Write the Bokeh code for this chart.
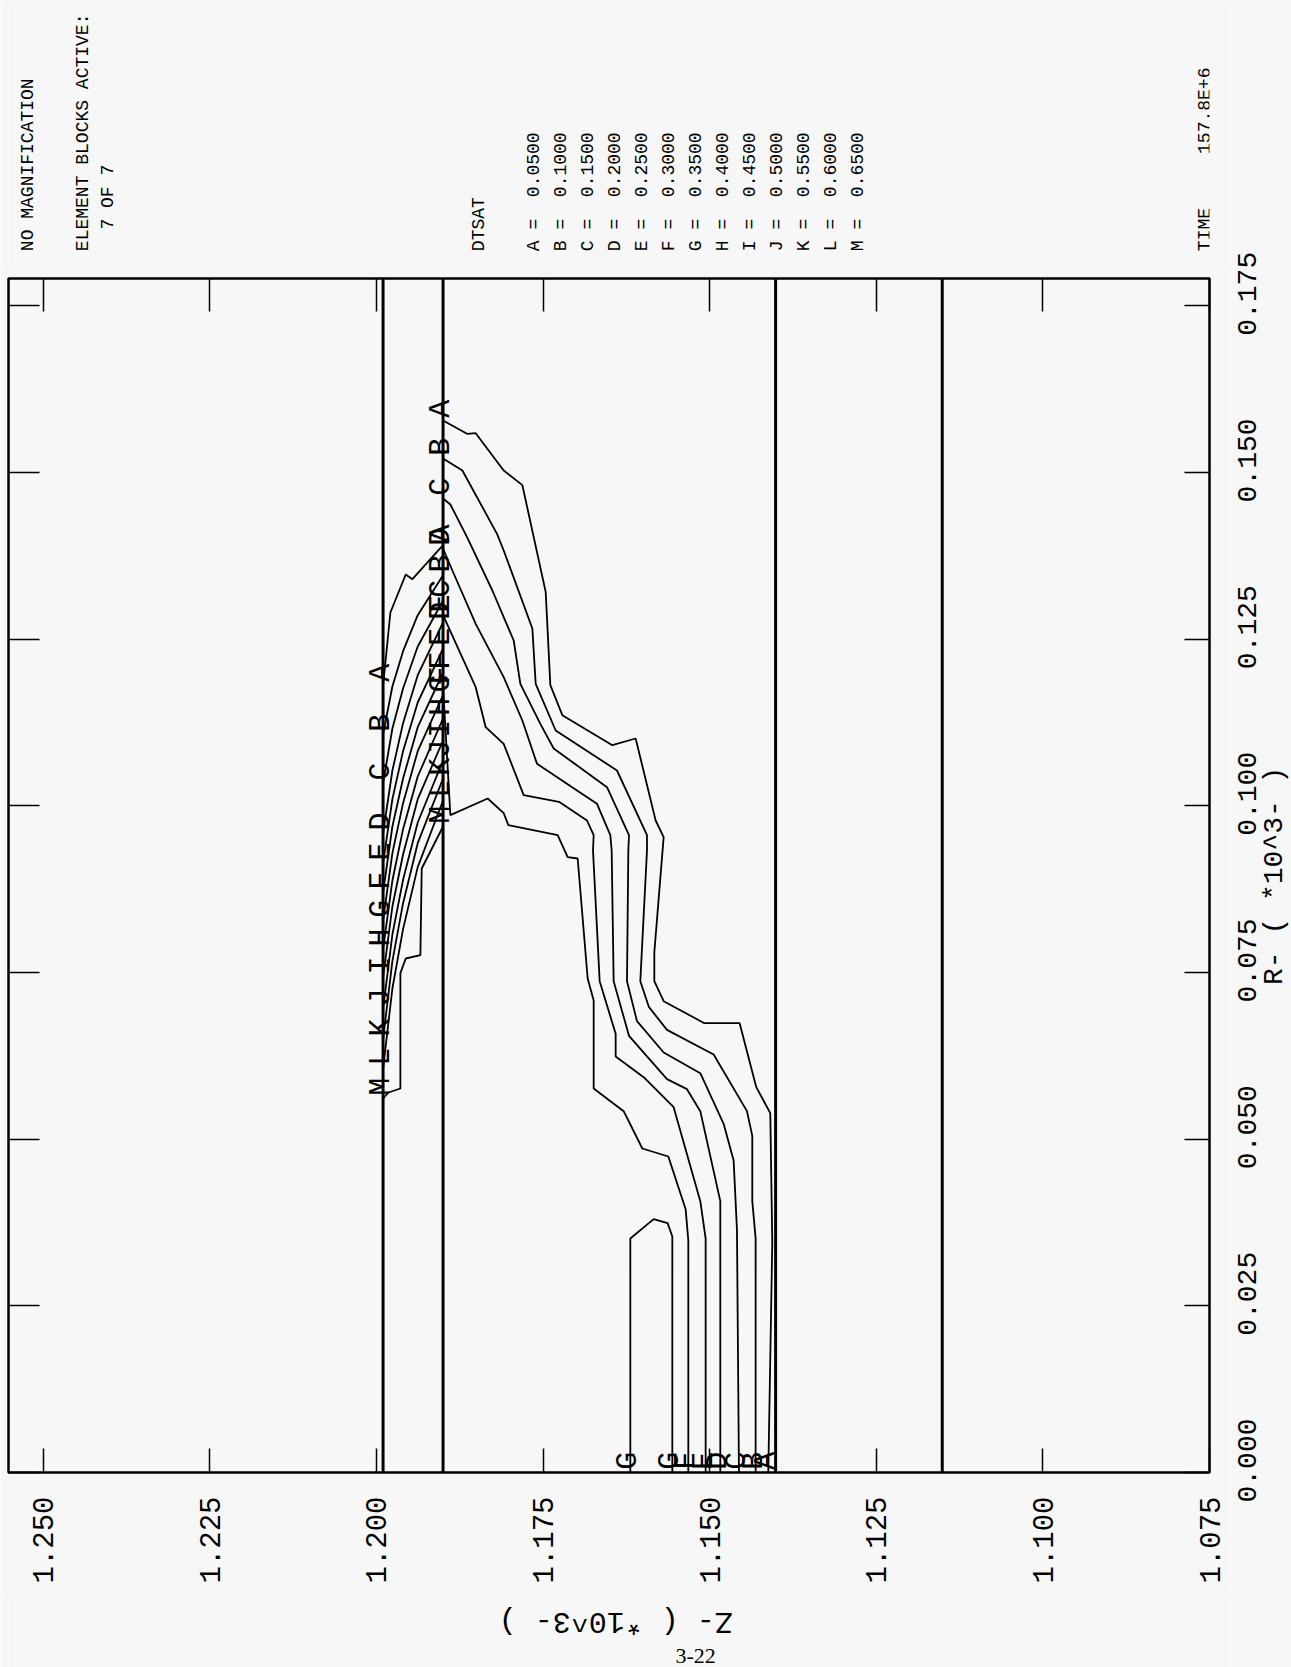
import math

from bokeh.core.properties import value
from bokeh.embed import file_html
from bokeh.layouts import column, row
from bokeh.models import FixedTicker, LinearAxis, PrintfTickFormatter, Range1d, Span
from bokeh.plotting import figure
from bokeh.resources import INLINE

PAPER = "#f7f7f7"
MONO = "Liberation Mono"
NB = "\u00a0"  # keeps the typewriter spacing of the printout

# ---- axes -------------------------------------------------------------
z_ticks = [1.075, 1.100, 1.125, 1.150, 1.175, 1.200, 1.225, 1.250]
r_ticks = [0.000, 0.025, 0.050, 0.075, 0.100, 0.125, 0.150, 0.175]
r_tick_labels = ["0.000", "0.025", "0.050", "0.075", "0.100", "0.125", "0.150", "0.175"]

# element block boundaries (Z, *10^3)
block_z = [1.1990, 1.1900, 1.1401, 1.1151]

# ---- contour levels of DTSAT -----------------------------------------
level_names = ["A", "B", "C", "D", "E", "F", "G", "H", "I", "J", "K", "L", "M"]
level_values = [0.05, 0.10, 0.15, 0.20, 0.25, 0.30, 0.35, 0.40, 0.45, 0.50, 0.55, 0.60, 0.65]

# ---- contours in the block between Z=1.140 and Z=1.190 ---------------
low_A_z = [1.1900, 1.1864, 1.1851, 1.1809, 1.1781, 1.1746, 1.1739, 1.1721, 1.1646, 1.1611, 1.1581,
           1.1569, 1.1583, 1.1583, 1.1569, 1.1508, 1.1455, 1.1430, 1.1409, 1.1406, 1.1412]
low_A_r = [0.1578, 0.1558, 0.1559, 0.1503, 0.1481, 0.1321, 0.1181, 0.1136, 0.1091, 0.1101, 0.0978,
           0.0953, 0.0780, 0.0737, 0.0707, 0.0674, 0.0674, 0.0578, 0.0539, 0.0345, 0.0]

low_B_z = [1.1900, 1.1871, 1.1819, 1.1809, 1.1766, 1.1761, 1.1731, 1.1639, 1.1594, 1.1594, 1.1604,
           1.1591, 1.1564, 1.1494, 1.1444, 1.1436, 1.1436, 1.1431, 1.1431]
low_B_r = [0.1521, 0.1503, 0.1408, 0.1383, 0.1266, 0.1183, 0.1113, 0.1053, 0.0956, 0.0933, 0.0737,
           0.0698, 0.0664, 0.0627, 0.0542, 0.0505, 0.0407, 0.0351, 0.0]

low_C_z = [1.1900, 1.1889, 1.1864, 1.1826, 1.1794, 1.1784, 1.1754, 1.1734, 1.1654, 1.1621, 1.1622,
           1.1624, 1.1609, 1.1569, 1.1514, 1.1479, 1.1464, 1.1459, 1.1456]
low_C_r = [0.1461, 0.1452, 0.1403, 0.1323, 0.1248, 0.1183, 0.1123, 0.1086, 0.1028, 0.0956, 0.0933,
           0.0737, 0.0677, 0.0630, 0.0599, 0.0523, 0.0468, 0.0364, 0.0]

low_D_z = [1.1900, 1.1886, 1.1851, 1.1809, 1.1781, 1.1759, 1.1699, 1.1669, 1.1649, 1.1647, 1.1644,
           1.1621, 1.1564, 1.1534, 1.1514, 1.1484, 1.1484]
low_D_r = [0.1386, 0.1353, 0.1273, 0.1193, 0.1128, 0.1063, 0.1023, 0.1003, 0.0956, 0.0933, 0.0737,
           0.0655, 0.0590, 0.0575, 0.0542, 0.0407, 0.0]

low_E_z = [1.1900, 1.1851, 1.1836, 1.1809, 1.1779, 1.1726, 1.1684, 1.1674, 1.1675, 1.1665, 1.1641,
           1.1641, 1.1599, 1.1554, 1.1514, 1.1506, 1.1506]
low_E_r = [0.1286, 0.1178, 0.1118, 0.1093, 0.1016, 0.1006, 0.0978, 0.0956, 0.0933, 0.0737, 0.0658,
           0.0624, 0.0593, 0.0548, 0.0407, 0.0351, 0.0]

low_F_z = [1.1900, 1.1889, 1.1833, 1.1809, 1.1802, 1.1728, 1.1713, 1.1698, 1.1683, 1.1674, 1.1674,
           1.1629, 1.1601, 1.1562, 1.1536, 1.1532, 1.1532]
low_F_r = [0.1178, 0.0986, 0.1011, 0.0989, 0.0971, 0.0956, 0.0923, 0.0921, 0.0741, 0.0708, 0.0576,
           0.0542, 0.0486, 0.0474, 0.0395, 0.0348, 0.0]

low_G_z = [1.1619, 1.1619, 1.1584, 1.1563, 1.1556, 1.1556]
low_G_r = [0.0, 0.0351, 0.0380, 0.0374, 0.0354, 0.0]

# ---- contours in the thin block between Z=1.190 and Z=1.199 -----------
mid_z = [1.1990, 1.1976, 1.1960, 1.1938, 1.1900]

mid_A_z = [1.1990, 1.1988, 1.1979, 1.1956, 1.1946, 1.1900]
mid_A_r = [0.1182, 0.1200, 0.1290, 0.1347, 0.1340, 0.1391]
mid_B_r = [0.1107, 0.1179, 0.1232, 0.1286, 0.1346]
mid_C_r = [0.1034, 0.1116, 0.1176, 0.1239, 0.1308]
mid_D_r = [0.0959, 0.1053, 0.1124, 0.1196, 0.1275]
mid_E_r = [0.0914, 0.1010, 0.1082, 0.1155, 0.1236]
mid_F_r = [0.0870, 0.0969, 0.1041, 0.1118, 0.1200]
mid_G_r = [0.0828, 0.0929, 0.1004, 0.1082, 0.1166]
mid_H_r = [0.0785, 0.0888, 0.0965, 0.1044, 0.1131]
mid_I_r = [0.0743, 0.0849, 0.0927, 0.1010, 0.1098]
mid_J_r = [0.0695, 0.0807, 0.0889, 0.0975, 0.1068]
mid_K_r = [0.0650, 0.0767, 0.0854, 0.0944, 0.1041]
mid_L_r = [0.0606, 0.0726, 0.0815, 0.0908, 0.1008]
mid_M_z = [1.1990, 1.1982, 1.1964, 1.1964, 1.1956, 1.1934, 1.1932, 1.1900]
mid_M_r = [0.0561, 0.0570, 0.0576, 0.0749, 0.0771, 0.0776, 0.0906, 0.0969]

contours = [
    ("A", low_A_z, low_A_r), ("B", low_B_z, low_B_r), ("C", low_C_z, low_C_r),
    ("D", low_D_z, low_D_r), ("E", low_E_z, low_E_r), ("F", low_F_z, low_F_r),
    ("G", low_G_z, low_G_r),
    ("A", mid_A_z, mid_A_r), ("B", mid_z, mid_B_r), ("C", mid_z, mid_C_r),
    ("D", mid_z, mid_D_r), ("E", mid_z, mid_E_r), ("F", mid_z, mid_F_r),
    ("G", mid_z, mid_G_r), ("H", mid_z, mid_H_r), ("I", mid_z, mid_I_r),
    ("J", mid_z, mid_J_r), ("K", mid_z, mid_K_r), ("L", mid_z, mid_L_r),
    ("M", mid_M_z, mid_M_r),
]

# ---- shared ranges and page geometry -------------------------------------
PX_PER_UNIT = 6667      # same scale on both axes
FRAME_RIGHT = 1209      # canvas x of Z = 1.075
z_range = Range1d(1.2552, 1.075)
r_range = Range1d(0.0, 0.1791)
LEFT_W = 1229           # width of the header / plot / footer column
STRIP_W = 1291 - LEFT_W


def bare_figure(width, height, x_range, y_range, **borders):
    f = figure(width=width, height=height, x_range=x_range, y_range=y_range,
               output_backend="svg", toolbar_location=None,
               x_axis_type=None, y_axis_type=None,
               background_fill_color=PAPER, border_fill_color=PAPER,
               outline_line_color=None, **borders)
    f.grid.visible = False
    return f


def rotated_text(f, xs, ys, texts, size, angle=math.pi / 2, align="left", font=MONO):
    f.text(x=xs, y=ys, text=texts, angle=angle, text_align=align, text_baseline="middle",
           text_font=value(font), text_font_size=size, text_color="black")


# ---- main plot ----------------------------------------------------------
p = figure(
    width=LEFT_W, height=1325, x_range=z_range, y_range=r_range,
    output_backend="svg", toolbar_location=None,
    x_axis_location="below", y_axis_location="right",
    min_border_left=8, min_border_right=LEFT_W - FRAME_RIGHT,
    min_border_top=8, min_border_bottom=123,
    background_fill_color=PAPER, border_fill_color=PAPER,
    outline_line_color="black", outline_line_width=2.5,
)
p.grid.visible = False


def style_axis(ax, ticks, tick_len, labelled, standoff=0):
    ax.ticker = FixedTicker(ticks=ticks)
    ax.formatter = PrintfTickFormatter(format="%.3f")
    ax.axis_line_color = None
    ax.major_tick_in = tick_len
    ax.major_tick_out = 0
    ax.major_tick_line_color = "black"
    ax.major_tick_line_width = 1.5
    ax.minor_tick_line_color = None
    ax.major_label_orientation = math.pi / 2
    ax.major_label_standoff = standoff
    if labelled:
        ax.major_label_text_font = MONO
        ax.major_label_text_font_size = "29px"
        ax.major_label_text_color = "black"
    else:
        ax.major_label_text_font_size = "0px"
        ax.major_label_text_alpha = 0


style_axis(p.xaxis[0], z_ticks, 24, True, standoff=24)
style_axis(p.yaxis[0], r_ticks, 25, False)

top_axis = LinearAxis()
style_axis(top_axis, z_ticks, 33, False)
p.add_layout(top_axis, "above")

left_axis = LinearAxis()
style_axis(left_axis, r_ticks, 31, False)
p.add_layout(left_axis, "left")

# element block boundaries
for z in block_z:
    p.add_layout(Span(location=z, dimension="height", line_color="black", line_width=3))

# contour lines
p.multi_line(xs=[c[1] for c in contours], ys=[c[2] for c in contours],
             line_color="black", line_width=1.8)

# contour letters at both ends of every line
lab_z, lab_r, lab_t = [], [], []
for name, zs, rs in contours:
    for z, r in ((zs[0], rs[0]), (zs[-1], rs[-1])):
        lab_z.append(z + 0.0003)
        lab_r.append(r + 0.0004)
        lab_t.append(name)
p.text(x=lab_z, y=lab_r, text=lab_t, angle=math.pi / 2,
       text_align="left", text_baseline="alphabetic",
       text_font=value(MONO), text_font_size="30px", text_color="black")

# ---- header block above the plot ----------------------------------------
head = bare_figure(LEFT_W, 270, z_range, Range1d(0.18030, 0.22079),
                   min_border_left=8, min_border_right=LEFT_W - FRAME_RIGHT,
                   min_border_top=0, min_border_bottom=0)
HEAD_R = 0.1832
head_z = [1.2522, 1.2440, 1.2402, 1.1846]
head_t = ["NO MAGNIFICATION", "ELEMENT BLOCKS ACTIVE:", NB * 2 + "7 OF 7", "DTSAT"]
for i, (name, lv) in enumerate(zip(level_names, level_values)):
    head_z.append(1.1764 - 0.004056 * i)
    head_t.append(f"{name} ={NB * 2}{lv:.4f}")
head_z.append(1.07575)
head_t.append("TIME" + NB * 5 + "157.8E+6")
rotated_text(head, head_z, [HEAD_R] * len(head_z), head_t, "18px")

# ---- Z axis title and page number -----------------------------------------
foot = bare_figure(LEFT_W, 72, z_range, Range1d(-0.02925, -0.01845),
                   min_border_left=8, min_border_right=LEFT_W - FRAME_RIGHT,
                   min_border_top=0, min_border_bottom=0)
rotated_text(foot, [1.1641], [-0.0222], ["Z- ( *10^3- )"], "30px", angle=math.pi, align="center")
rotated_text(foot, [1.1521], [-0.0275], ["3-22"], "22px", angle=0, align="center",
             font="Liberation Serif")

# ---- R tick labels and axis title, in a strip right of the plot ---------
strip_z = Range1d(1.075 - (LEFT_W - FRAME_RIGHT) / PX_PER_UNIT, 1.075 - 82 / PX_PER_UNIT)
strip = bare_figure(STRIP_W, 1667, strip_z, Range1d(-0.02925, 0.22079),
                    min_border_left=0, min_border_right=0, min_border_top=0, min_border_bottom=0)
rotated_text(strip, [1.06945] * len(r_ticks), [r + 0.0018 for r in r_ticks],
             r_tick_labels, "28px", align="center")
rotated_text(strip, [1.0652], [0.0895], ["R- ( *10^3- )"], "28px", align="center")

page = row(column(head, p, foot, spacing=0), strip, spacing=0)
open("out.html", "w").write(file_html(page, INLINE))
